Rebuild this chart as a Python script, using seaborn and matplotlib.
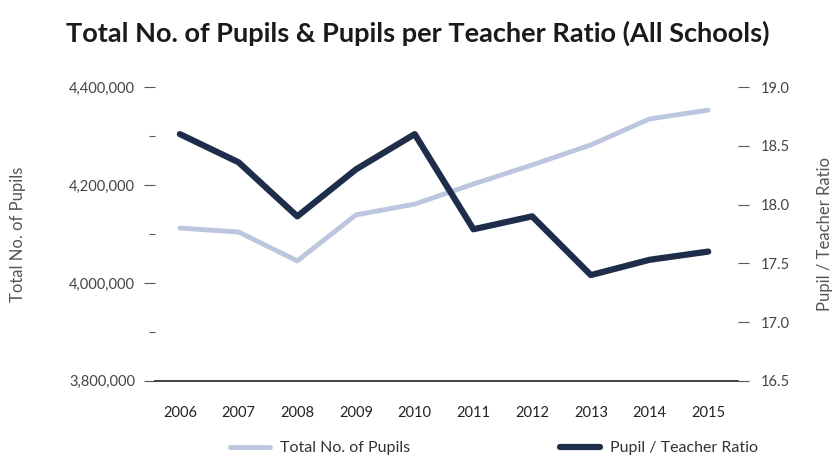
import matplotlib
matplotlib.use("Agg")
import matplotlib.pyplot as plt
import matplotlib.ticker as mticker
import numpy as np
import pandas as pd
import seaborn as sns

# data
years = [2006, 2007, 2008, 2009, 2010, 2011, 2012, 2013, 2014, 2015]
pupils = [4112000, 4104000, 4045000, 4139000, 4161000, 4202000, 4241000, 4282000, 4335000, 4353000]
ratio = [18.6, 18.36, 17.9, 18.3, 18.6, 17.79, 17.9, 17.4, 17.53, 17.6]

pale = "#bcc6de"
navy = "#1e2d4a"
grey = "#555555"

sns.set_theme(style="white")
plt.rcParams['font.family'] = ['Lato', 'DejaVu Sans']

df = pd.DataFrame({"year": years, "pupils": pupils, "ratio": ratio})

fig, ax = plt.subplots(figsize=(8.36, 4.61), dpi=100)
fig.subplots_adjust(left=0.185, right=0.883, top=0.811, bottom=0.174)
ax2 = ax.twinx()

sns.lineplot(data=df, x="year", y="pupils", ax=ax, color=pale, lw=3.5,
             label="Total No. of Pupils", legend=False)
sns.lineplot(data=df, x="year", y="ratio", ax=ax2, color=navy, lw=4.5,
             label="Pupil / Teacher Ratio", legend=False)

ax.set_xlim(2005.57, 2015.51)
ax.set_ylim(3800000, 4400000)
ax2.set_ylim(16.5, 19.0)

ax.set_xticks(years)
ax.set_xticklabels([str(y) for y in years])
ax.yaxis.set_major_locator(mticker.MultipleLocator(200000))
ax.yaxis.set_minor_locator(mticker.MultipleLocator(100000))
ax.yaxis.set_major_formatter(mticker.FuncFormatter(lambda v, p: f"{int(v):,}"))
ax2.yaxis.set_major_locator(mticker.MultipleLocator(0.5))
ax2.yaxis.set_major_formatter(mticker.FormatStrFormatter("%.1f"))

for a in (ax, ax2):
    for s in ["top", "left", "right", "bottom"]:
        a.spines[s].set_visible(False)
ax.spines["bottom"].set_visible(True)
ax.spines["bottom"].set_color("#222222")
ax.spines["bottom"].set_linewidth(1.2)

ax.tick_params(axis="y", which="major", left=True, length=8, width=0.8, color=grey,
               pad=6, labelsize=10.5, labelcolor="#444444")
ax.tick_params(axis="y", which="minor", left=True, length=4, width=0.8, color=grey)
ax2.tick_params(axis="y", right=True, length=8, width=0.8, color=grey,
                pad=8, labelsize=10.5, labelcolor="#444444")
ax.tick_params(axis="x", bottom=False, pad=12, labelsize=10.5, labelcolor="#222222")

ax.set_xlabel("")
ax.set_ylabel("Total No. of Pupils", fontsize=12, color="#555555", labelpad=31)
ax2.set_ylabel("Pupil / Teacher Ratio", fontsize=12, color="#555555", labelpad=20)

fig.suptitle("Total No. of Pupils & Pupils per Teacher Ratio (All Schools)",
             x=0.5, y=0.955, fontsize=19.5, fontweight="bold", color="#1a1a1a")

h1 = ax.get_lines()[0]
h2 = ax2.get_lines()[0]
fig.legend([h1], ["Total No. of Pupils"], loc="lower left",
           bbox_to_anchor=(0.262, -0.012), frameon=False, borderpad=0.2,
           handlelength=2.5, handletextpad=0.6, fontsize=11.5, labelcolor="#333333")
fig.legend([h2], ["Pupil / Teacher Ratio"], loc="lower left",
           bbox_to_anchor=(0.657, -0.012), frameon=False, borderpad=0.2,
           handlelength=2.5, handletextpad=0.6, fontsize=11.5, labelcolor="#333333")

fig.savefig("out.png", dpi=100)
